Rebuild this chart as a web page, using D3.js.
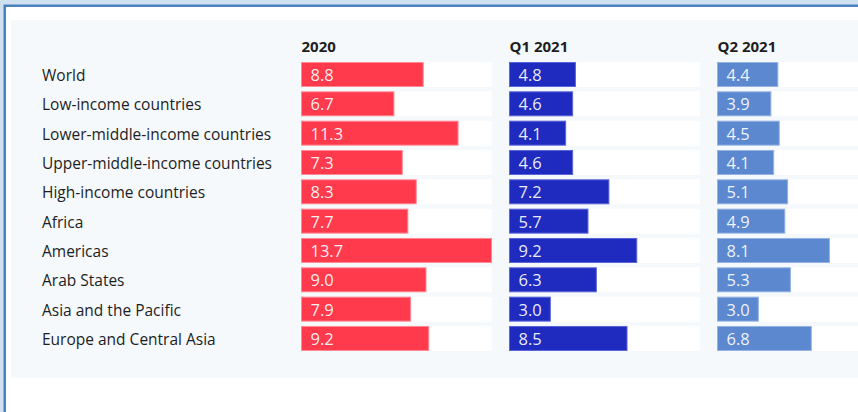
<!DOCTYPE html>
<html>
<head>
<meta charset="utf-8">
<script src="https://cdn.jsdelivr.net/npm/d3@7"></script>
<style>
  html, body { margin: 0; padding: 0; background: #cfe0ee; }
  svg { display: block; font-family: "Open Sans", "Noto Sans", sans-serif; }
</style>
</head>
<body>
<svg id="chart" width="858" height="412"></svg>
<script>
// Categories (rows)
const regions = [
  "World",
  "Low-income countries",
  "Lower-middle-income countries",
  "Upper-middle-income countries",
  "High-income countries",
  "Africa",
  "Americas",
  "Arab States",
  "Asia and the Pacific",
  "Europe and Central Asia"
];

// Periods (columns)
const periods = ["2020", "Q1 2021", "Q2 2021"];

// Values per period, in row order
const values2020 = [8.8, 6.7, 11.3, 7.3, 8.3, 7.7, 13.7, 9.0, 7.9, 9.2];
const valuesQ1 = [4.8, 4.6, 4.1, 4.6, 7.2, 5.7, 9.2, 6.3, 3.0, 8.5];
const valuesQ2 = [4.4, 3.9, 4.5, 4.1, 5.1, 4.9, 8.1, 5.3, 3.0, 6.8];

const seriesValues = [values2020, valuesQ1, valuesQ2];
const fills = ["#ff3a4c", "#1f2bbf", "#5b88cf"];
const strokes = ["#ff8a96", "#5b64d9", "#94b3e4"];

const svg = d3.select("#chart");

// Frame: white sheet with blue edge, light panel inside
svg.append("rect")
  .attr("x", 4.75).attr("y", 5.75)
  .attr("width", 900).attr("height", 500)
  .attr("fill", "#ffffff")
  .attr("stroke", "#4a80bd").attr("stroke-width", 2.5);

svg.append("rect")
  .attr("x", 11).attr("y", 20)
  .attr("width", 900).attr("height", 358)
  .attr("fill", "#f5f9fc");

// Scales
const y = d3.scaleBand()
  .domain(regions)
  .range([59.83, 59.83 + 10 * 29.33])
  .paddingInner(0.1477)
  .paddingOuter(0.1477 / 2);

const col = d3.scaleBand()
  .domain(periods)
  .range([301, 908])
  .paddingInner(17 / 208)
  .paddingOuter(0);

const x = d3.scaleLinear()
  .domain([0, d3.max(seriesValues.flat())])
  .range([0, col.bandwidth()]);

// Row labels
svg.append("g")
  .selectAll("text")
  .data(regions)
  .join("text")
  .attr("x", 42)
  .attr("y", d => y(d) + 19)
  .attr("fill", "#1e1e1e")
  .attr("font-size", 15.5)
  .text(d => d);

// Columns
periods.forEach((p, k) => {
  const g = svg.append("g").attr("transform", `translate(${col(p)},0)`);

  g.append("text")
    .attr("x", 0.5)
    .attr("y", 52)
    .attr("fill", "#1e1e1e")
    .attr("font-size", 15)
    .attr("font-weight", 700)
    .text(p);

  const rows = regions.map((r, i) => ({ region: r, value: seriesValues[k][i] }));

  // White tracks
  g.selectAll("rect.track")
    .data(rows)
    .join("rect")
    .attr("class", "track")
    .attr("x", 0)
    .attr("y", d => y(d.region))
    .attr("width", col.bandwidth())
    .attr("height", y.bandwidth())
    .attr("fill", "#ffffff");

  // Bars
  g.selectAll("rect.bar")
    .data(rows)
    .join("rect")
    .attr("class", "bar")
    .attr("x", 0.5)
    .attr("y", d => y(d.region) + 0.5)
    .attr("width", d => x(d.value) - 1)
    .attr("height", y.bandwidth() - 1)
    .attr("fill", fills[k])
    .attr("stroke", strokes[k])
    .attr("stroke-width", 1);

  // Value labels
  g.selectAll("text.val")
    .data(rows)
    .join("text")
    .attr("class", "val")
    .attr("x", 9.5)
    .attr("y", d => y(d.region) + 19)
    .attr("fill", "#ffffff")
    .attr("fill-opacity", 0.92)
    .attr("font-size", 16.5)
    .text(d => d.value.toFixed(1));
});
</script>
</body>
</html>
